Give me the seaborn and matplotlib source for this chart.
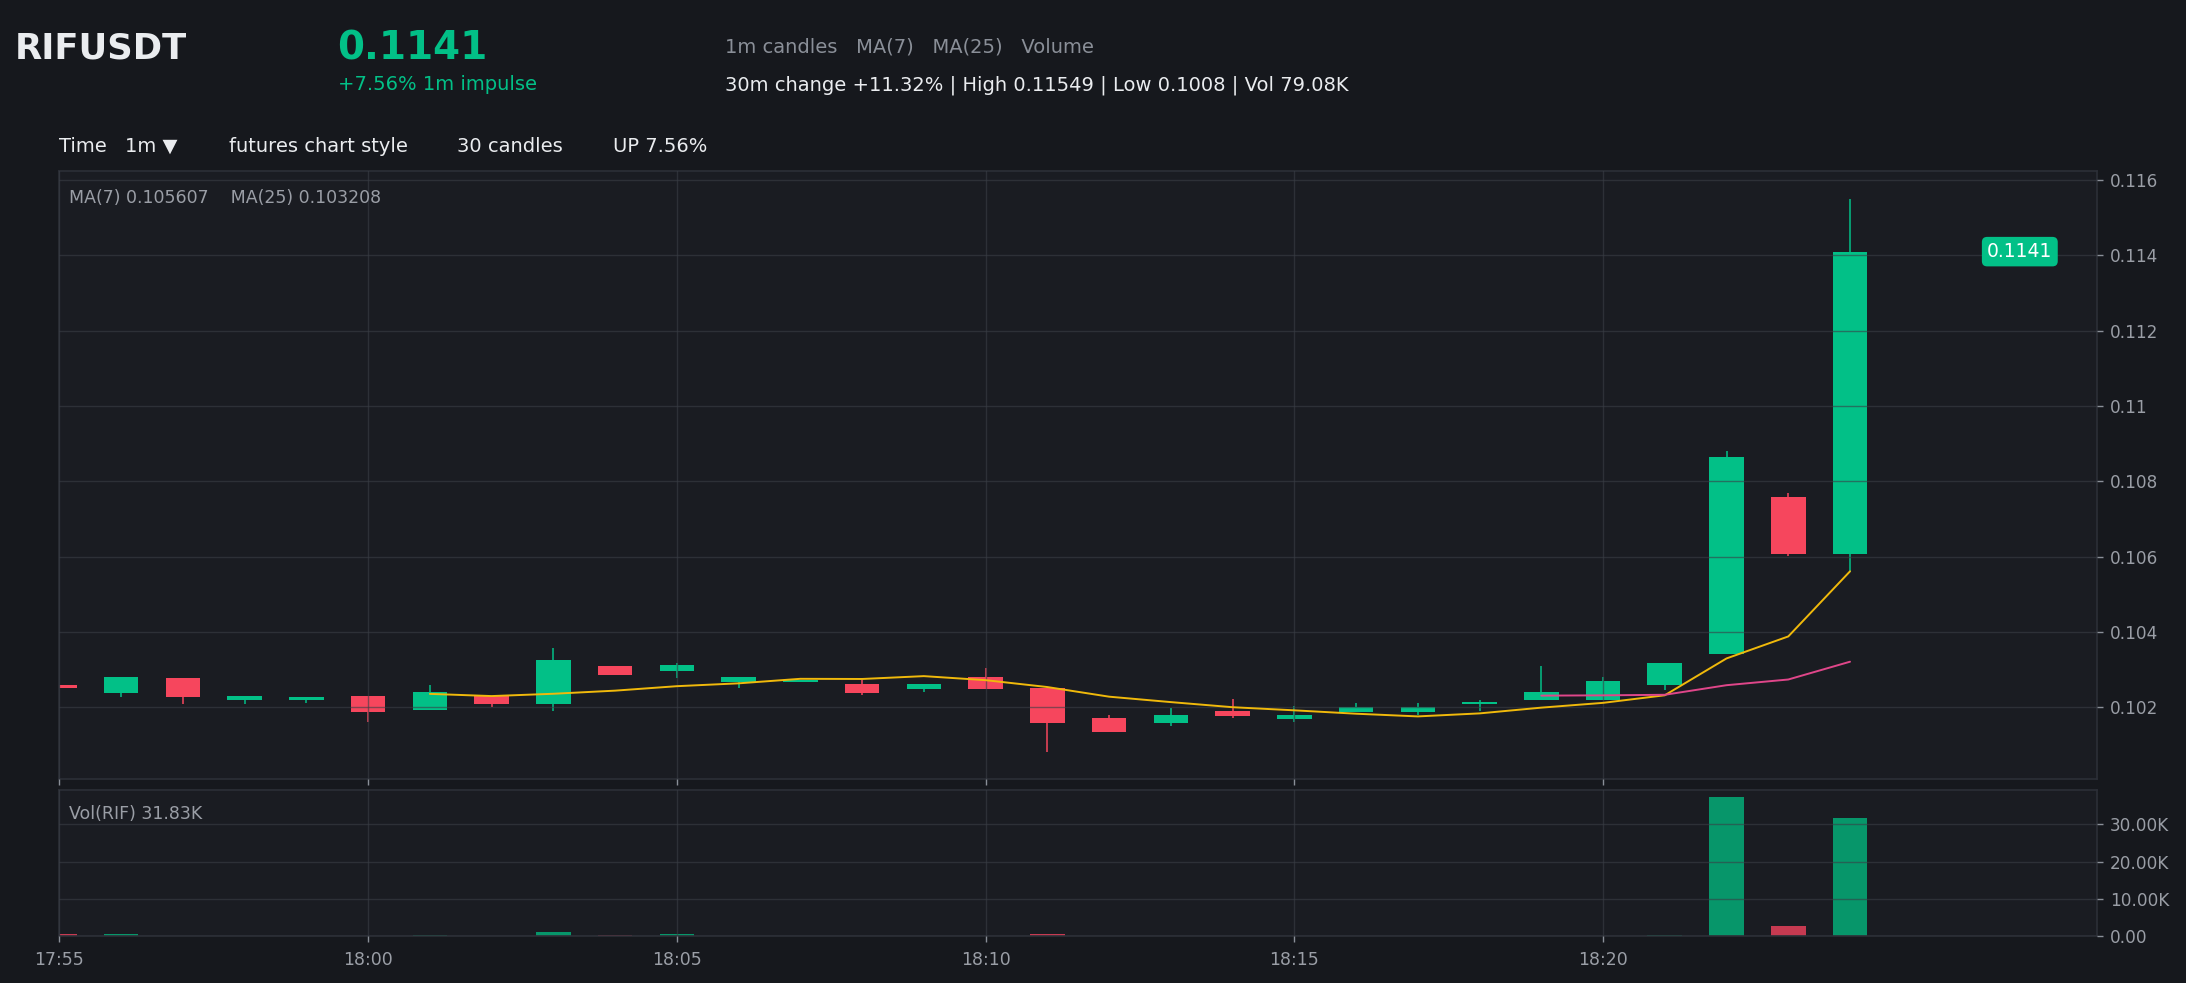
import numpy as np
import pandas as pd
import seaborn as sns
import matplotlib.pyplot as plt
from matplotlib.ticker import FuncFormatter

# 1m candles, 17:55 -> 18:24 (minute offset from 17:55)
minutes = list(range(30))
opens = [0.10260, 0.10238, 0.10276, 0.10220, 0.10220, 0.10230, 0.10193, 0.10230, 0.10209, 0.10308,
         0.10297, 0.10268, 0.10266, 0.10262, 0.10249, 0.10281, 0.10252, 0.10172, 0.10158, 0.10190,
         0.10169, 0.10188, 0.10188, 0.10209, 0.10220, 0.10220, 0.10259, 0.10340, 0.10758, 0.10608]
highs = [0.10260, 0.10281, 0.10276, 0.10230, 0.10228, 0.10230, 0.10260, 0.10230, 0.10358, 0.10308,
         0.10316, 0.10281, 0.10272, 0.10273, 0.10262, 0.10305, 0.10252, 0.10180, 0.10198, 0.10222,
         0.10204, 0.10212, 0.10212, 0.10220, 0.10308, 0.10279, 0.10318, 0.10880, 0.10769, 0.11549]
lows = [0.10250, 0.10228, 0.10207, 0.10209, 0.10212, 0.10161, 0.10193, 0.10201, 0.10190, 0.10286,
        0.10278, 0.10252, 0.10266, 0.10233, 0.10241, 0.10249, 0.10080, 0.10134, 0.10150, 0.10172,
        0.10161, 0.10188, 0.10180, 0.10190, 0.10220, 0.10220, 0.10246, 0.10340, 0.10602, 0.10560]
closes = [0.10250, 0.10281, 0.10228, 0.10230, 0.10228, 0.10188, 0.10241, 0.10209, 0.10324, 0.10286,
          0.10313, 0.10281, 0.10272, 0.10238, 0.10262, 0.10249, 0.10158, 0.10134, 0.10180, 0.10177,
          0.10180, 0.10199, 0.10199, 0.10214, 0.10241, 0.10269, 0.10318, 0.10865, 0.10608, 0.11410]
volumes_k = [0.65, 0.70, 0.15, 0.10, 0.10, 0.20, 0.25, 0.15, 1.25, 0.30,
             0.50, 0.20, 0.10, 0.15, 0.10, 0.20, 0.60, 0.20, 0.15, 0.10,
             0.10, 0.10, 0.10, 0.10, 0.20, 0.15, 0.25, 37.30, 2.80, 31.83]

tick_minutes = [0, 5, 10, 15, 20, 25]
tick_labels = ["17:55", "18:00", "18:05", "18:10", "18:15", "18:20"]
price_ticks = [0.102, 0.104, 0.106, 0.108, 0.110, 0.112, 0.114, 0.116]
vol_ticks = [0, 10, 20, 30]

BG = "#16181d"
PANEL = "#1a1c22"
GREEN = "#02c087"
RED = "#f6465d"
VOL_GREEN = "#07966a"
VOL_RED = "#c63a51"
YELLOW = "#f0b90b"
PINK = "#e0468a"
GRID = "#3a3e46"
SPINE = "#2c2f37"
TXT = "#eaecef"
GRAY = "#9a9ea6"

df = pd.DataFrame({"minute": minutes, "open": opens, "high": highs,
                   "low": lows, "close": closes, "vol": volumes_k})
df["dir"] = np.where(df["close"] >= df["open"], "up", "down")
df["ma7"] = df["close"].rolling(7).mean()
df["ma25"] = df["close"].rolling(25).mean()

sns.set_theme(style="dark", rc={"figure.facecolor": BG, "axes.facecolor": PANEL,
                                 "axes.edgecolor": SPINE, "grid.color": GRID})
plt.rcParams["font.family"] = ["DejaVu Sans"]

W, H = 2186, 983
fig = plt.figure(figsize=(W / 100, H / 100), dpi=100)
fig.patch.set_facecolor(BG)


def fpos(x, y):
    return x / W, 1 - y / H


left, right = 59.4, 2097
ax = fig.add_axes([left / W, 1 - 779 / H, (right - left) / W, (779 - 170.7) / H])
axv = fig.add_axes([left / W, 1 - 936.3 / H, (right - left) / W, (936.3 - 790) / H])

# candles
cols = [GREEN if d == "up" else RED for d in df["dir"]]
ax.vlines(df["minute"], df["low"], df["high"], colors=cols, linewidth=1.1, zorder=1.5)
body_bottom = np.minimum(df["open"], df["close"])
body_h = np.maximum(np.abs(df["close"] - df["open"]), 0.00004)
ax.bar(df["minute"], body_h, bottom=body_bottom, width=0.56, color=cols, linewidth=0, zorder=2)

sns.lineplot(data=df, x="minute", y="ma7", ax=ax, color=YELLOW, linewidth=1.4, zorder=3)
sns.lineplot(data=df, x="minute", y="ma25", ax=ax, color=PINK, linewidth=1.4, zorder=3)

ax.text(31.75, 0.1141, "0.1141", ha="center", va="center", fontsize=13.5, color="white",
        bbox=dict(boxstyle="round,pad=0.28", fc=GREEN, ec="none"), zorder=5)

# volume
sns.barplot(data=df, x="minute", y="vol", hue="dir", palette={"up": VOL_GREEN, "down": VOL_RED},
            native_scale=True, width=0.56, dodge=False, legend=False, errorbar=None,
            saturation=1, linewidth=0, ax=axv, zorder=2)

for a in (ax, axv):
    a.set_xlim(0, 33)
    a.set_xticks(tick_minutes)
    a.set_xlabel("")
    a.set_ylabel("")
    a.set_axisbelow(False)
    a.grid(True, color=GRID, alpha=0.6, linewidth=1)
    a.yaxis.tick_right()
    for s in a.spines.values():
        s.set_visible(True)
        s.set_color(SPINE)
        s.set_linewidth(1.2)
    a.tick_params(axis="both", which="both", colors="#8a8f98", labelcolor=GRAY,
                  labelsize=12.2, length=4.5, width=1, direction="out")
    a.tick_params(axis="y", right=True, left=False, pad=5)
    a.tick_params(axis="x", bottom=True)

ax.set_ylim(0.10009, 0.11625)
ax.set_yticks(price_ticks)
ax.yaxis.set_major_formatter(FuncFormatter(lambda v, p: f"{v:g}"))
ax.tick_params(axis="x", labelbottom=False)

axv.set_ylim(0, 39.2)
axv.set_yticks(vol_ticks)
axv.yaxis.set_major_formatter(FuncFormatter(lambda v, p: "0.00" if v == 0 else f"{v:.2f}K"))
axv.set_xticklabels(tick_labels)
axv.tick_params(axis="x", labelsize=12.5, pad=6)

# header text
fig.text(*fpos(15, 58.5), "RIFUSDT", fontsize=25.5, fontweight="bold", color=TXT, va="baseline")
fig.text(*fpos(337.5, 59), "0.1141", fontsize=28, fontweight="bold", color=GREEN, va="baseline")
fig.text(*fpos(337.5, 89.5), "+7.56% 1m impulse", fontsize=14, color=GREEN, va="baseline")
fig.text(*fpos(725, 52.7), "1m candles   MA(7)   MA(25)   Volume", fontsize=14,
         color="#8a8f98", va="baseline")
fig.text(*fpos(725, 90.7), "30m change +11.32% | High 0.11549 | Low 0.1008 | Vol 79.08K",
         fontsize=14, color=TXT, va="baseline")
for x, s in [(59, "Time"), (125, "1m ▼"), (228.6, "futures chart style"),
             (457, "30 candles"), (613.4, "UP 7.56%")]:
    fig.text(*fpos(x, 151.7), s, fontsize=14, color=TXT, va="baseline")

fig.text(*fpos(69, 203.3), "MA(7) 0.105607    MA(25) 0.103208", fontsize=12.5,
         color=GRAY, va="baseline")
fig.text(*fpos(69, 819.3), "Vol(RIF) 31.83K", fontsize=12.5, color=GRAY, va="baseline")

fig.savefig("out.png", dpi=100, facecolor=BG)
